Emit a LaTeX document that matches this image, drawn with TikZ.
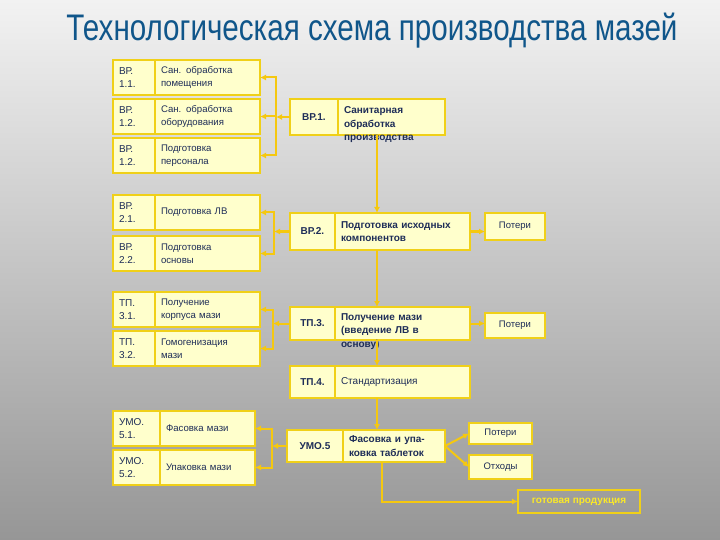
\documentclass[tikz,border=0pt]{standalone}
\usepackage{fontspec}
\setmainfont{Liberation Sans}
\usepackage{graphicx}
\usetikzlibrary{positioning,arrows.meta}

\definecolor{boxfill}{RGB}{255,255,204}
\definecolor{boxline}{RGB}{240,208,24}
\definecolor{linkcol}{RGB}{245,200,16}
\definecolor{ink}{RGB}{30,45,88}
\definecolor{titleblue}{RGB}{16,86,138}
\definecolor{goldtext}{RGB}{250,232,40}
\definecolor{bgtop}{RGB}{242,242,242}
\definecolor{bgmid}{RGB}{198,198,198}
\definecolor{bgbot}{RGB}{150,150,150}

\tikzset{
  cell/.style={draw=boxline, fill=boxfill, line width=1.6pt, outer sep=0pt,
    inner xsep=6pt, inner ysep=2pt, align=left, text=ink},
  lcode/.style={cell, anchor=north west, minimum height=35pt, text width=30pt,
    font=\fontsize{10}{13}\selectfont},
  ltext/.style={cell, minimum height=35pt, text width=93pt,
    font=\fontsize{9.6}{12.5}\selectfont},
  ucode/.style={lcode, text width=35pt},
  utext/.style={ltext, text width=83pt},
  mcode/.style={cell, anchor=north west, align=center, inner xsep=4pt,
    font=\bfseries\fontsize{10}{13.5}\selectfont},
  mtext/.style={cell, font=\bfseries\fontsize{10}{13.5}\selectfont},
  spill/.style={text depth=13.5pt},
  side/.style={cell, anchor=north west, align=center, minimum width=60pt,
    font=\fontsize{9.5}{11}\selectfont},
  link/.style={draw=linkcol, line width=2pt},
  arr/.style={link, -{Latex[length=6pt,width=6pt]}},
}

\begin{document}
\begin{tikzpicture}[x=1pt,y=-1pt]
\shade[top color=bgtop, middle color=bgmid, bottom color=bgbot] (0,0) rectangle (720,540);
\useasboundingbox (0,0) rectangle (720,540);

\node[anchor=base, text=titleblue, font=\fontsize{37}{40}\selectfont] (title) at (372,41)
  {\scalebox{0.8}[1]{Технологическая схема производства мазей}};

% left column
\foreach \y/\n/\c/\t in {60/a1/{ВР.\\1.1.}/{Сан. обработка\\помещения},
  99/a2/{ВР.\\1.2.}/{Сан. обработка\\оборудования},
  138/a3/{ВР.\\1.2.}/{Подготовка\\персонала},
  195/b1/{ВР.\\2.1.}/{Подготовка ЛВ},
  236/b2/{ВР.\\2.2.}/{Подготовка\\основы},
  292/c1/{ТП.\\3.1.}/{Получение\\корпуса мази},
  331/c2/{ТП.\\3.2.}/{Гомогенизация\\мази}} {
  \node[lcode] (k\n) at (113,\y) {\c};
  \node[ltext, right=0pt of k\n] (\n) {\t};
}
\foreach \y/\n/\c/\t in {411/d1/{УМО.\\5.1.}/{Фасовка мази},
  450/d2/{УМО.\\5.2.}/{Упаковка мази}} {
  \node[ucode] (k\n) at (113,\y) {\c};
  \node[utext, right=0pt of k\n] (\n) {\t};
}

% main chain
\node[mcode, minimum width=48pt, minimum height=36pt] (kv1) at (290,99) {ВР.1.};
\node[mtext, minimum height=36pt, text width=95pt, spill, right=0pt of kv1] (v1)
  {Санитарная\\обработка\\производства};
\node[mcode, minimum width=45pt, minimum height=37pt] (kv2) at (290,213) {ВР.2.};
\node[mtext, minimum height=37pt, text width=123pt, right=0pt of kv2] (v2)
  {Подготовка исходных\\компонентов};
\node[mcode, minimum width=45pt, minimum height=33pt] (kv3) at (290,307) {ТП.3.};
\node[mtext, minimum height=33pt, text width=123pt, spill, right=0pt of kv3] (v3)
  {Получение мази\\(введение ЛВ в\\основу)};
\node[mcode, minimum width=45pt, minimum height=32pt] (kv4) at (290,366) {ТП.4.};
\node[mtext, minimum height=32pt, text width=123pt, right=0pt of kv4] (v4)
  {\mdseries Стандартизация};
\node[mcode, minimum width=56pt, minimum height=32pt] (kv5) at (287,430) {УМО.5};
\node[mtext, minimum height=32pt, text width=90pt, right=0pt of kv5] (v5)
  {Фасовка и упа-\\ковка таблеток};

% losses and output
\node[side, minimum height=27pt] (p1) at (485,213) {Потери};
\node[side, minimum height=25pt] (p2) at (485,313) {Потери};
\node[side, minimum width=63pt, minimum height=21pt] (p3) at (469,423) {Потери};
\node[side, minimum width=63pt, minimum height=24pt] (waste) at (469,455) {Отходы};
\node[draw=boxline, line width=1.6pt, outer sep=0pt, text=goldtext, anchor=north west,
  minimum width=122pt, minimum height=23pt, font=\bfseries\fontsize{10}{11}\selectfont] (prod)
  at (518,490) {готовая продукция};

% brackets
\coordinate (j1) at ([xshift=-14pt]kv1.west);
\coordinate (j2) at ([xshift=-16pt]kv2.west);
\coordinate (j3) at ([xshift=-17pt]kv3.west);
\coordinate (j4) at ([xshift=-15pt]kv5.west);
\draw[arr] (kv1.west) -- (j1);
\draw[arr] (kv2.west) -- (j2);
\draw[arr] (kv3.west) -- (j3);
\draw[arr] (kv5.west) -- (j4);
\foreach \n in {a1,a2,a3} \draw[arr] (j1) |- (\n.east);
\foreach \n in {b1,b2} \draw[arr] (j2) |- (\n.east);
\foreach \n in {c1,c2} \draw[arr] (j3) |- (\n.east);
\foreach \n in {d1,d2} \draw[arr] (j4) |- (\n.east);

% trunk
\coordinate (tr) at ([xshift=39pt]v1.west);
\coordinate (tr5) at ([xshift=39pt]v5.west);
\draw[arr] (v1.south -| tr) -- (v2.north -| tr);
\draw[arr] (v2.south -| tr) -- (v3.north -| tr);
\draw[arr] (v3.south -| tr) -- (v4.north -| tr);
\draw[arr] (v4.south -| tr) -- (v5.north -| tr);
\draw[arr] (v2.east) -- (v2.east -| p1.west);
\draw[arr] (v3.east) -- (v3.east -| p2.west);
\draw[arr] (v5.east) -- (p3.west);
\draw[arr] (v5.east) -- (waste.west);
\draw[arr] (v5.south -| tr5) |- (prod.west);
\end{tikzpicture}
\end{document}
